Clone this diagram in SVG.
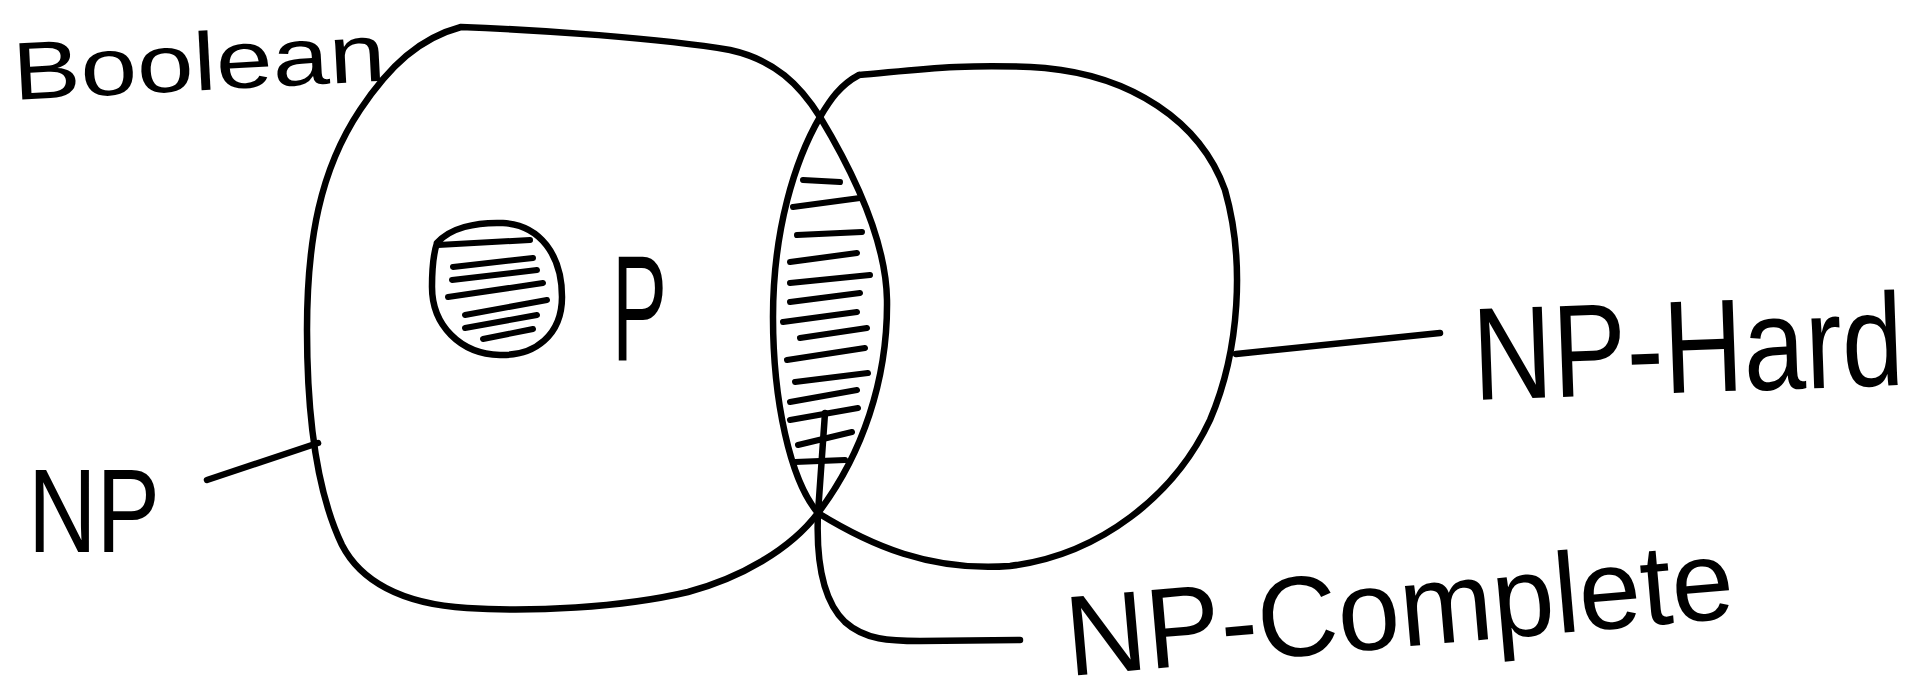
<svg xmlns="http://www.w3.org/2000/svg" width="1927" height="700" viewBox="0 0 1927 700">
<style>
.ink{fill:none;stroke:#000;stroke-width:6.5;stroke-linecap:round;stroke-linejoin:round}
.hatch{fill:none;stroke:#000;stroke-width:6;stroke-linecap:round}
.lbl{font-family:"Liberation Sans","DejaVu Sans",sans-serif;fill:#000}
</style>
<rect width="1927" height="700" fill="#fff"/>
<text class="lbl" x="0" y="0" font-size="82" transform="translate(14,100) rotate(-3) scale(1.24,1)">Boolean</text>
<g id="np">
<path class="ink" d="M461,27 C540,30 660,38 730,50 C775,60 800,85 820,117 C855,175 886,240 887,300 C888,380 862,455 818,513 C790,550 740,578 688,592 C620,608 530,612 467,608 C400,604 360,580 342,545 C318,495 307,420 307,330 C307,240 320,170 360,110 C390,65 420,38 461,27 Z"/>
<text class="lbl" x="28" y="552" font-size="118" textLength="132" lengthAdjust="spacingAndGlyphs">NP</text>
</g>
<g id="np-hard">
<path class="ink" d="M859,75 C900,72 960,62 1045,68 C1130,76 1200,120 1225,190 C1245,260 1240,350 1210,420 C1175,495 1100,555 1010,566 C930,572 870,545 818,513 C790,480 773,400 773,317 C773,230 795,160 820,117 C830,100 840,85 859,75"/>
<text class="lbl" x="0" y="0" font-size="132" transform="translate(1474,400) rotate(-2) scale(0.84,1)">NP-Hard</text>
</g>
<g id="p">
<path class="ink" d="M437,243 C450,228 475,222 503,223 C540,225 562,255 562,297 C562,335 535,356 500,355 C460,354 432,325 432,287 C432,268 434,252 437,243"/>
<g class="hatch">
<path d="M438,245 L530,240"/><path d="M453,267 L533,258"/><path d="M452,280 L537,270"/><path d="M448,297 L543,283"/><path d="M465,315 L547,300"/><path d="M465,328 L537,315"/><path d="M483,339 L533,329"/>
</g>
<text class="lbl" x="612" y="360" font-size="150" textLength="55" lengthAdjust="spacingAndGlyphs">P</text>
</g>
<g id="np-complete">
<g class="hatch">
<path d="M803,180 L840,182"/><path d="M793,207 L860,198"/><path d="M797,235 L862,232"/><path d="M790,262 L857,253"/><path d="M790,283 L870,275"/><path d="M790,302 L860,293"/><path d="M783,322 L857,312"/><path d="M800,338 L867,328"/><path d="M787,360 L865,348"/><path d="M795,382 L868,373"/><path d="M790,402 L857,390"/><path d="M790,420 L858,408"/><path d="M798,445 L852,432"/><path d="M795,462 L845,460"/>
</g>
<text class="lbl" x="1069" y="676" font-size="114" textLength="670" lengthAdjust="spacingAndGlyphs" transform="rotate(-5 1069 676)">NP-Complete</text>
</g>
<g id="connectors">
<path class="ink" d="M207,480 L318,443"/>
<path class="ink" d="M1236,354 L1440,333"/>
<path class="ink" d="M825,413 L818,513 C816,560 822,600 845,622 C865,640 890,641 920,641 L1020,640"/>
</g>
</svg>
